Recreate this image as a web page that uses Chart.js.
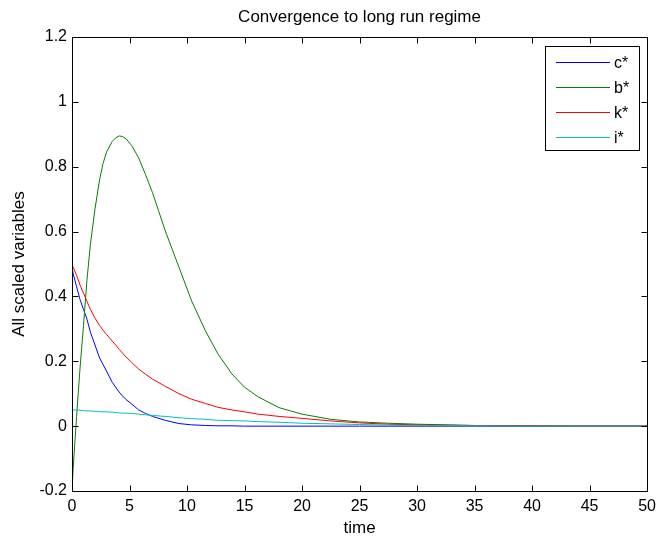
<!DOCTYPE html>
<html>
<head>
<meta charset="utf-8">
<script src="https://cdn.jsdelivr.net/npm/chart.js@4"></script>
<style>
  html, body { margin: 0; padding: 0; background: #fff; }
  #wrap { width: 662px; height: 539px; }
</style>
</head>
<body>
<div id="wrap"><canvas id="graph" width="662" height="539"></canvas></div>
<script>
"use strict";

// time grid
const time = [0, 0.1, 0.4, 0.7, 1, 1.3, 1.6, 2, 2.4, 2.7, 3, 3.5, 3.8, 4.1, 4.4, 4.7, 5.2, 5.8, 6.4, 7, 8.1, 9.3, 10.4, 11.6, 12.7, 13.9, 15, 16.2, 18, 20, 22.5, 25, 27.5, 30, 35, 40, 43, 50];

const c_star = [0.49, 0.47, 0.43, 0.39, 0.36, 0.33, 0.29, 0.25, 0.21, 0.19, 0.17, 0.135, 0.12, 0.105, 0.093, 0.082, 0.068, 0.05, 0.039, 0.03, 0.018, 0.008, 0.004, 0.002, 0.001, 0.001, 0, 0, 0, 0, 0, 0, 0, 0, 0, 0, 0, 0];
const b_star = [-0.2, -0.13, 0.03, 0.18, 0.31, 0.45, 0.56, 0.67, 0.76, 0.81, 0.845, 0.878, 0.889, 0.895, 0.893, 0.886, 0.865, 0.827, 0.775, 0.72, 0.603, 0.49, 0.386, 0.294, 0.222, 0.161, 0.12, 0.09, 0.057, 0.037, 0.021, 0.013, 0.009, 0.006, 0.002, 0.001, 0, 0];
const k_star = [0.5, 0.49, 0.465, 0.435, 0.41, 0.385, 0.36, 0.333, 0.31, 0.296, 0.283, 0.262, 0.25, 0.237, 0.225, 0.213, 0.196, 0.176, 0.16, 0.145, 0.123, 0.1, 0.083, 0.07, 0.058, 0.05, 0.044, 0.037, 0.03, 0.024, 0.016, 0.01, 0.006, 0.004, 0.002, 0.001, 0, 0];
const i_star = [0.05, 0.05, 0.05, 0.049, 0.048, 0.047, 0.047, 0.046, 0.045, 0.044, 0.044, 0.043, 0.042, 0.041, 0.04, 0.04, 0.039, 0.037, 0.035, 0.033, 0.03, 0.026, 0.023, 0.021, 0.018, 0.017, 0.016, 0.014, 0.012, 0.009, 0.007, 0.005, 0.003, 0.002, 0.001, 0, 0, 0];

const series_names = ["c*", "b*", "k*", "i*"];
const series_colors = ["#0000ff", "#008000", "#ff0000", "#00bfbf"];
const series_values = [c_star, b_star, k_star, i_star];

const font_family = "'Liberation Sans', Arial, Helvetica, sans-serif";
Chart.defaults.font.family = font_family;
Chart.defaults.font.size = 16;
Chart.defaults.color = "#000";

function to_points(values) {
  return time.map((t, i) => ({ x: t, y: values[i] }));
}

// matlab style box, inward ticks on all sides and the legend inside
const matlab_axes = {
  id: "matlab_axes",
  afterDatasetsDraw(chart) {
    const { ctx, chartArea: a, scales } = chart;
    const tick = 6;
    const left = Math.round(a.left) + 0.5;
    const right = Math.round(a.right) + 0.5;
    const top = Math.round(a.top) + 0.5;
    const bottom = Math.round(a.bottom) + 0.5;
    ctx.save();
    ctx.strokeStyle = "#000";
    ctx.lineWidth = 1;
    ctx.beginPath();
    scales.x.ticks.forEach((t) => {
      const px = Math.round(scales.x.getPixelForValue(t.value)) + 0.5;
      ctx.moveTo(px, bottom);
      ctx.lineTo(px, bottom - tick);
      ctx.moveTo(px, top);
      ctx.lineTo(px, top + tick);
    });
    scales.y.ticks.forEach((t) => {
      const py = Math.round(scales.y.getPixelForValue(t.value)) + 0.5;
      ctx.moveTo(left, py);
      ctx.lineTo(left + tick, py);
      ctx.moveTo(right, py);
      ctx.lineTo(right - tick, py);
    });
    ctx.stroke();
    ctx.strokeRect(left, top, right - left, bottom - top);

    // legend
    const box = { x: 545.5, y: 46.5, w: 94, h: 104 };
    ctx.fillStyle = "#fff";
    ctx.fillRect(box.x, box.y, box.w, box.h);
    ctx.strokeStyle = "#000";
    ctx.strokeRect(box.x, box.y, box.w, box.h);
    ctx.font = "16px " + font_family;
    ctx.textBaseline = "middle";
    ctx.textAlign = "left";
    series_names.forEach((name, i) => {
      const y = Math.round(61.7 + i * 25);
      ctx.fillStyle = series_colors[i];
      ctx.fillRect(556, y, 54, 1);
      ctx.fillStyle = "#000";
      ctx.fillText(name, 614, y + 2);
    });
    ctx.restore();
  },
};

const datasets = series_names.map((name, i) => ({
  label: name,
  data: to_points(series_values[i]),
  borderColor: series_colors[i],
  backgroundColor: series_colors[i],
  borderWidth: 1,
  pointRadius: 0,
  tension: 0,
  order: series_names.length - i,
}));

const config = {
  type: "line",
  data: { datasets: datasets },
  options: {
    responsive: false,
    animation: false,
    events: [],
    layout: { padding: { top: 0, right: 9, left: 0, bottom: 0 } },
    scales: {
      x: {
        type: "linear",
        min: 0,
        max: 50,
        border: { display: false },
        grid: { display: false, drawTicks: false },
        ticks: { stepSize: 5, padding: 6, maxRotation: 0 },
        title: { display: true, text: "time", font: { size: 17 }, padding: { top: 0, bottom: 0 } },
        afterFit: (scale) => { scale.height = 48; },
      },
      y: {
        min: -0.2,
        max: 1.2,
        border: { display: false },
        grid: { display: false, drawTicks: false },
        ticks: {
          stepSize: 0.2,
          padding: 5,
          callback: (value) => String(Number(value.toFixed(1)) || 0),
        },
        title: { display: true, text: "All scaled variables", font: { size: 17 }, padding: { top: 9, bottom: 0 } },
        afterFit: (scale) => { scale.width = 72; },
      },
    },
    plugins: {
      legend: { display: false },
      tooltip: { enabled: false },
      title: {
        display: true,
        fullSize: false,
        text: "Convergence to long run regime",
        font: { size: 17, weight: "normal" },
        color: "#000",
        padding: { top: 7, bottom: 9.6 },
      },
    },
  },
  plugins: [matlab_axes],
};

new Chart(document.getElementById("graph"), config);
</script>
</body>
</html>
